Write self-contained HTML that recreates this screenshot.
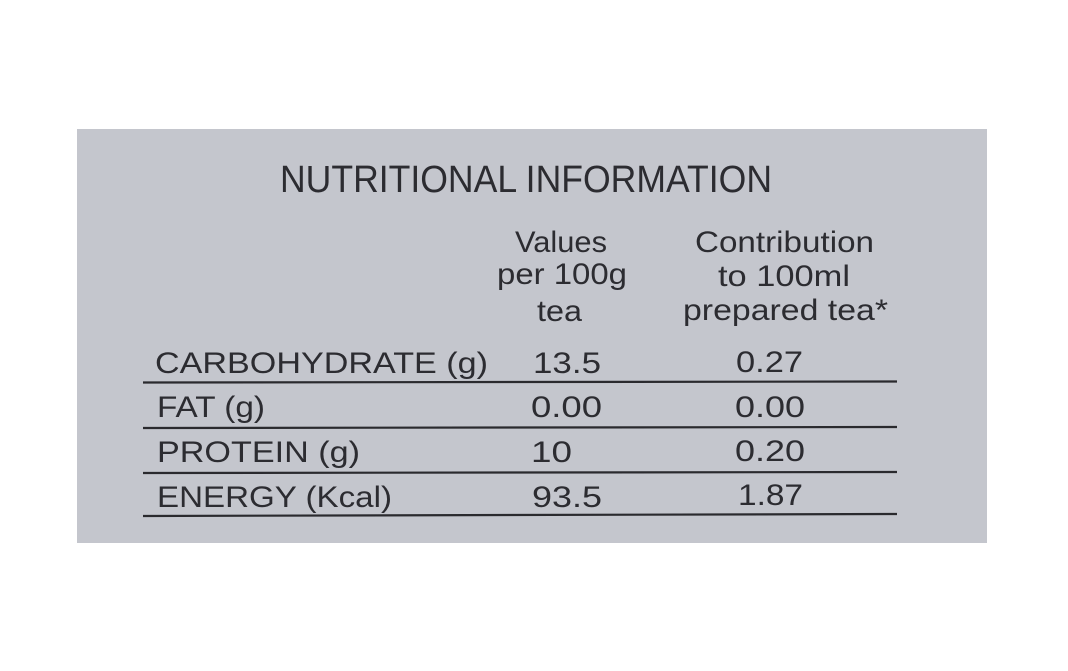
<!DOCTYPE html>
<html>
<head>
<meta charset="utf-8">
<style>
  html,body{margin:0;padding:0;background:#ffffff;}
  body{width:1068px;height:671px;overflow:hidden;}
  svg{display:block;}
  text{font-family:"Liberation Sans", sans-serif;fill:#2c2c31;}
</style>
</head>
<body>
<svg width="1068" height="671" viewBox="0 0 1068 671" xmlns="http://www.w3.org/2000/svg">
  <rect x="0" y="0" width="1068" height="671" fill="#ffffff"/>
  <rect x="77" y="129" width="910" height="414" fill="#c4c6cd"/>

  <text x="280" y="192" font-size="38" textLength="492" lengthAdjust="spacingAndGlyphs">NUTRITIONAL INFORMATION</text>

  <text x="515" y="252" font-size="30" textLength="92" lengthAdjust="spacingAndGlyphs">Values</text>
  <text x="497" y="284" font-size="30" textLength="130" lengthAdjust="spacingAndGlyphs">per 100g</text>
  <text x="537" y="321" font-size="30" textLength="45" lengthAdjust="spacingAndGlyphs">tea</text>

  <text x="695" y="252" font-size="30" textLength="179" lengthAdjust="spacingAndGlyphs">Contribution</text>
  <text x="718" y="286" font-size="30" textLength="132" lengthAdjust="spacingAndGlyphs">to 100ml</text>
  <text x="683" y="320" font-size="30" textLength="205" lengthAdjust="spacingAndGlyphs">prepared tea*</text>

  <text x="155" y="373" font-size="30" textLength="333" lengthAdjust="spacingAndGlyphs">CARBOHYDRATE (g)</text>
  <text x="157" y="417" font-size="30" textLength="108" lengthAdjust="spacingAndGlyphs">FAT (g)</text>
  <text x="157" y="462" font-size="30" textLength="203" lengthAdjust="spacingAndGlyphs">PROTEIN (g)</text>
  <text x="157" y="507" font-size="30" textLength="235" lengthAdjust="spacingAndGlyphs">ENERGY (Kcal)</text>

  <text x="533" y="373" font-size="30" textLength="68" lengthAdjust="spacingAndGlyphs">13.5</text>
  <text x="531" y="417" font-size="30" textLength="71" lengthAdjust="spacingAndGlyphs">0.00</text>
  <text x="531" y="462" font-size="30" textLength="41" lengthAdjust="spacingAndGlyphs">10</text>
  <text x="532" y="507" font-size="30" textLength="70" lengthAdjust="spacingAndGlyphs">93.5</text>

  <text x="736" y="372" font-size="30" textLength="67" lengthAdjust="spacingAndGlyphs">0.27</text>
  <text x="735" y="417" font-size="30" textLength="70" lengthAdjust="spacingAndGlyphs">0.00</text>
  <text x="735" y="461" font-size="30" textLength="70" lengthAdjust="spacingAndGlyphs">0.20</text>
  <text x="738" y="505" font-size="30" textLength="65" lengthAdjust="spacingAndGlyphs">1.87</text>

  <g stroke="#2a2a2e" stroke-width="2.2" fill="none">
    <line x1="143" y1="382.5" x2="897" y2="381.5"/>
    <line x1="143" y1="428" x2="897" y2="427"/>
    <line x1="143" y1="473" x2="897" y2="472"/>
    <line x1="143" y1="516" x2="897" y2="514"/>
  </g>
</svg>
</body>
</html>
